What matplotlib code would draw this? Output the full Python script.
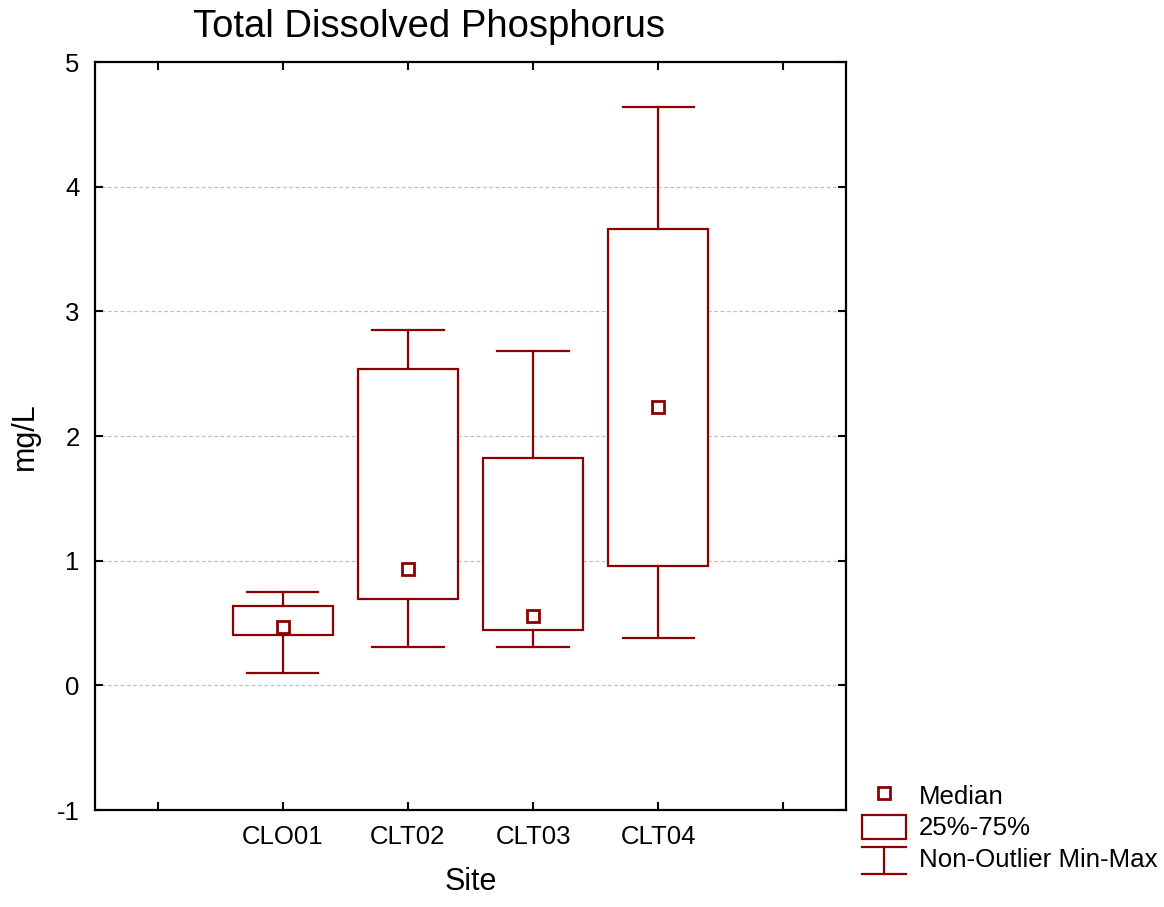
import matplotlib
matplotlib.use("Agg")
import matplotlib.pyplot as plt
from matplotlib.lines import Line2D
from matplotlib.patches import Rectangle
from matplotlib.legend_handler import HandlerBase

plt.rcParams['font.family'] = ['Liberation Sans', 'DejaVu Sans']
plt.rcParams['axes.unicode_minus'] = False

# data (mg/L)
sites = ["CLO01", "CLT02", "CLT03", "CLT04"]
mins = [0.10, 0.31, 0.31, 0.38]
q1s = [0.40, 0.69, 0.44, 0.96]
medians = [0.47, 0.93, 0.56, 2.23]
q3s = [0.64, 2.54, 1.82, 3.66]
maxs = [0.75, 2.85, 2.68, 4.64]

COLOR = "#8b0000"


class WhiskerHandler(HandlerBase):
    """Draws the I-shaped min-max glyph in the legend."""
    def create_artists(self, legend, orig_handle, xdescent, ydescent,
                       width, height, fontsize, trans):
        x0, y0 = -xdescent, -ydescent - 0.15 * height
        y1 = y0 + height * 1.1
        xm = x0 + width / 2
        kw = dict(color=COLOR, lw=1.6, transform=trans)
        return [Line2D([x0, x0 + width], [y1, y1], **kw),
                Line2D([xm, xm], [y0, y1], **kw),
                Line2D([x0, x0 + width], [y0, y0], **kw)]


fig = plt.figure(figsize=(11.64, 9.07), dpi=100)
ax = fig.add_axes([95 / 1164, 1 - 810 / 907, 751 / 1164, 748 / 907])

positions = list(range(1, len(sites) + 1))
stats = []
for i in range(len(sites)):
    stats.append({"whislo": mins[i], "q1": q1s[i], "med": medians[i],
                  "q3": q3s[i], "whishi": maxs[i]})

ax.bxp(stats, positions=positions, widths=0.8, capwidths=0.57,
       showfliers=False, patch_artist=True,
       boxprops=dict(facecolor="white", edgecolor=COLOR, lw=1.6),
       whiskerprops=dict(color=COLOR, lw=1.6),
       capprops=dict(color=COLOR, lw=1.6),
       medianprops=dict(lw=0), zorder=3)
ax.plot(positions, medians, ls="none", marker="s", ms=9, mfc="white",
        mec=COLOR, mew=2, zorder=4)

ax.set_xlim(-0.5, 5.5)
ax.set_ylim(-1, 5)
ax.set_xticks(range(0, 6))
ax.set_xticklabels([""] + sites + [""])
ax.set_yticks(range(-1, 6))
ax.tick_params(direction="in", length=6, width=1.5, labelsize=18.5,
               top=True, right=True, pad=11)
for sp in ax.spines.values():
    sp.set_linewidth(1.6)

for y in range(0, 5):
    ax.axhline(y, color="#c0c0c0", lw=0.9, ls=(0, (3, 2)), zorder=1)

ax.set_xlabel("Site", fontsize=22, labelpad=13)
ax.set_ylabel("mg/L", fontsize=22, labelpad=12)
fig.text(429 / 1164, 1 - 27 / 907, "Total Dissolved Phosphorus",
         fontsize=27.5, ha="center", va="center")

h_med = Line2D([], [], ls="none", marker="s", ms=9, mfc="white",
               mec=COLOR, mew=2)
h_box = Rectangle((0, 0), 1, 1, facecolor="white", edgecolor=COLOR, lw=1.6)
h_whisk = object()
fig.legend([h_med, h_box, h_whisk], ["Median", "25%-75%", "Non-Outlier Min-Max"],
           handler_map={object: WhiskerHandler()},
           loc="upper left", bbox_to_anchor=(844 / 1164, 1 - 765 / 907),
           frameon=False, fontsize=18.6, handlelength=1.7, handleheight=1.05,
           handletextpad=0.5, labelspacing=0.22, borderpad=0.2)

fig.savefig("out.png", dpi=100)
